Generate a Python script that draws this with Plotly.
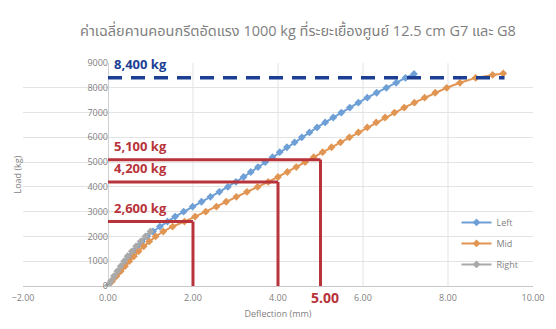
import plotly.graph_objects as go

# Load-deflection readings (deflection in mm, load in kg)
left_defl = [0.00, 0.09, 0.18, 0.27, 0.36, 0.44, 0.52, 0.60, 0.70, 0.80, 0.92, 1.06, 1.22, 1.40,
             1.58, 1.78, 1.99, 2.20, 2.41, 2.62, 2.82, 3.01, 3.19, 3.36, 3.53, 3.70, 3.87, 4.04,
             4.21, 4.39, 4.56, 4.74, 4.92, 5.11, 5.30, 5.49, 5.69, 5.89, 6.10, 6.32, 6.55, 6.78,
             7.00, 7.20]
left_load = [0, 200, 400, 600, 800, 1000, 1200, 1400, 1600, 1800, 2000, 2200, 2400, 2600,
             2800, 3000, 3200, 3400, 3600, 3800, 4000, 4200, 4400, 4600, 4800, 5000, 5200, 5400,
             5600, 5800, 6000, 6200, 6400, 6600, 6800, 7000, 7200, 7400, 7600, 7800, 8000, 8200,
             8400, 8560]

mid_defl = [0.00, 0.10, 0.20, 0.30, 0.40, 0.50, 0.61, 0.72, 0.84, 0.97, 1.12, 1.30, 1.52, 1.80,
            2.05, 2.30, 2.55, 2.78, 3.02, 3.27, 3.52, 3.77, 4.00, 4.22, 4.43, 4.64, 4.84, 5.05,
            5.26, 5.47, 5.68, 5.89, 6.10, 6.31, 6.52, 6.74, 6.97, 7.21, 7.45, 7.70, 7.97, 8.28,
            8.65, 9.05, 9.30]
mid_load = [0, 200, 400, 600, 800, 1000, 1200, 1400, 1600, 1800, 2000, 2200, 2400, 2600,
            2800, 3000, 3200, 3400, 3600, 3800, 4000, 4200, 4400, 4600, 4800, 5000, 5200, 5400,
            5600, 5800, 6000, 6200, 6400, 6600, 6800, 7000, 7200, 7400, 7600, 7800, 8000, 8200,
            8400, 8520, 8580]

right_defl = [0.00, 0.07, 0.14, 0.22, 0.30, 0.38, 0.46, 0.56, 0.66, 0.77, 0.88, 1.00]
right_load = [0, 200, 400, 600, 800, 1000, 1200, 1400, 1600, 1800, 2000, 2200]

# Reference levels marked on the chart
max_load = 8400
max_load_defl = 9.33
marked_defl = [2.0, 4.0, 5.0]
marked_load = [2600, 4200, 5100]
marked_labels = ["2,600 kg", "4,200 kg", "5,100 kg"]
defl_label = "5.00"

x_ticks = [-2, 0, 2, 4, 6, 8, 10]
y_ticks = [0, 1000, 2000, 3000, 4000, 5000, 6000, 7000, 8000, 9000]

title_text = "ค่าเฉลี่ยคานคอนกรีตอัดแรง 1000 kg ที่ระยะเยื้องศูนย์ 12.5 cm G7 และ G8"

FONT = "Open Sans, Noto Sans Thai, Noto Sans, sans-serif"
RED = "#B8333A"
NAVY = "#1C3F94"
GRID = "#E3E3E3"

fig = go.Figure()

series = [
    ("Left", left_defl, left_load, "#6E9FD6"),
    ("Mid", mid_defl, mid_load, "#E19553"),
    ("Right", right_defl, right_load, "#A9A9A9"),
]
for name, xs, ys, col in series:
    fig.add_trace(go.Scatter(
        x=xs, y=ys, name=name, legendgroup=name, mode="lines+markers",
        line=dict(color=col, width=2),
        marker=dict(symbol="diamond", size=6, color=col),
    ))

shapes = []
# vertical gridlines at the inner x ticks
for xv in x_ticks[2:-1]:
    shapes.append(dict(type="line", xref="x", yref="y", x0=xv, x1=xv, y0=0, y1=y_ticks[-1],
                       line=dict(color=GRID, width=1), layer="below"))

# maximum load dashed line
shapes.append(dict(type="line", xref="x", yref="y", x0=0, x1=max_load_defl,
                   y0=max_load, y1=max_load,
                   line=dict(color=NAVY, width=3.5, dash="14px,9px")))

# red reference lines: horizontal to the curve, then down to the axis
for xv, yv in zip(marked_defl, marked_load):
    shapes.append(dict(type="line", xref="x", yref="y", x0=0, x1=xv, y0=yv, y1=yv,
                       line=dict(color=RED, width=3)))
    shapes.append(dict(type="line", xref="x", yref="y", x0=xv, x1=xv, y0=yv, y1=0,
                       line=dict(color=RED, width=3)))

annotations = [
    dict(text="8,400 kg", x=0.1, y=max_load, xref="x", yref="y", xanchor="left",
         yanchor="bottom", yshift=3, showarrow=False,
         font=dict(family="Open Sans, sans-serif", size=13, color=NAVY, weight="bold")),
]
for yv, lab in zip(marked_load, marked_labels):
    annotations.append(dict(text=lab, x=0.1, y=yv, xref="x", yref="y", xanchor="left",
                            yanchor="bottom", yshift=3, showarrow=False,
                            font=dict(family="Open Sans, sans-serif", size=13, color=RED,
                                      weight="bold")))
annotations.append(dict(text=defl_label, x=marked_defl[2], y=0, xref="x", yref="y",
                        xanchor="center", yanchor="top", xshift=4, yshift=0, showarrow=False,
                        font=dict(family="Open Sans, sans-serif", size=14, color=RED,
                                  weight="bold")))
annotations.append(dict(text="Load (kg)", x=-2, xshift=-6, y=0.5, xref="x", yref="paper",
                        textangle=-90, showarrow=False,
                        font=dict(family=FONT, size=9, color="#7F7F7F")))

fig.update_layout(
    width=556, height=329,
    margin=dict(l=22, r=12, t=63, b=41),
    paper_bgcolor="white", plot_bgcolor="white",
    font=dict(family=FONT, color="#7F7F7F", size=9),
    title=dict(text=title_text, x=298 / 556, xanchor="center", xref="container",
               y=1 - 31 / 329, yanchor="middle", yref="container",
               font=dict(family=FONT, size=14.5, color="#7F7F7F")),
    showlegend=True,
    legend=dict(x=0.85, y=0.35, xanchor="left", yanchor="top", bgcolor="rgba(0,0,0,0)",
                font=dict(size=9, color="#7F7F7F"), itemwidth=30, tracegroupgap=2),
    shapes=shapes,
    annotations=annotations,
)
fig.update_xaxes(
    range=[x_ticks[0], x_ticks[-1]], tickvals=x_ticks, tickformat=".2f",
    showgrid=False, zeroline=True, zerolinecolor="#D0D0D0", zerolinewidth=1,
    showline=False, ticks="", tickfont=dict(size=9, color="#7F7F7F"), ticklabelstandoff=5,
    title=dict(text="Deflection (mm)", font=dict(size=9, color="#7F7F7F"), standoff=7),
)
fig.update_yaxes(
    range=[y_ticks[0], y_ticks[-1]], tickvals=y_ticks, tickformat="d",
    showgrid=True, gridcolor=GRID, zeroline=True, zerolinecolor="#C8C8C8", zerolinewidth=1,
    showline=False, ticks="", tickfont=dict(size=9, color="#7F7F7F"),
    anchor="free", position=(0 - x_ticks[0]) / (x_ticks[-1] - x_ticks[0]),
)

fig.write_html("out.html")
